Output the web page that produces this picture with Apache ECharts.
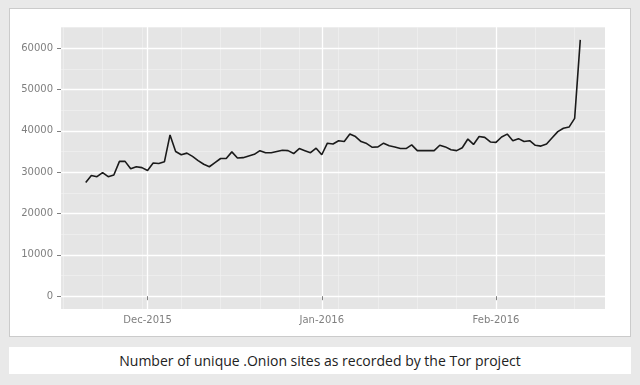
<!DOCTYPE html>
<html>
<head>
<meta charset="utf-8">
<script src="https://cdn.jsdelivr.net/npm/echarts@6/dist/echarts.min.js"></script>
<style>
  html, body { margin: 0; padding: 0; width: 640px; height: 385px; background: #e9e9e9; overflow: hidden; }
  #box { position: absolute; left: 9px; top: 8px; width: 620px; height: 327px; background: #ffffff; border: 1px solid #cbcbcb; }
  #caption { position: absolute; left: 9px; top: 347px; width: 622px; height: 27px; background: #ffffff;
    font-family: "Open Sans", "Noto Sans", sans-serif; font-size: 14px; color: #222; text-align: center; line-height: 27px; }
  #chart { position: absolute; left: 0; top: 0; width: 640px; height: 340px; }
</style>
</head>
<body>
<div id="box"></div>
<div id="chart"></div>
<div id="caption">Number of unique .Onion sites as recorded by the Tor project</div>
<script>
// ---- data ----
const dates = [
  '2015-11-20','2015-11-21','2015-11-22','2015-11-23','2015-11-24','2015-11-25','2015-11-26','2015-11-27','2015-11-28','2015-11-29','2015-11-30',
  '2015-12-01','2015-12-02','2015-12-03','2015-12-04','2015-12-05','2015-12-06','2015-12-07','2015-12-08','2015-12-09','2015-12-10',
  '2015-12-11','2015-12-12','2015-12-13','2015-12-14','2015-12-15','2015-12-16','2015-12-17','2015-12-18','2015-12-19','2015-12-20',
  '2015-12-21','2015-12-22','2015-12-23','2015-12-24','2015-12-25','2015-12-26','2015-12-27','2015-12-28','2015-12-29','2015-12-30','2015-12-31',
  '2016-01-01','2016-01-02','2016-01-03','2016-01-04','2016-01-05','2016-01-06','2016-01-07','2016-01-08','2016-01-09','2016-01-10',
  '2016-01-11','2016-01-12','2016-01-13','2016-01-14','2016-01-15','2016-01-16','2016-01-17','2016-01-18','2016-01-19','2016-01-20',
  '2016-01-21','2016-01-22','2016-01-23','2016-01-24','2016-01-25','2016-01-26','2016-01-27','2016-01-28','2016-01-29','2016-01-30','2016-01-31',
  '2016-02-01','2016-02-02','2016-02-03','2016-02-04','2016-02-05','2016-02-06','2016-02-07','2016-02-08','2016-02-09','2016-02-10',
  '2016-02-11','2016-02-12','2016-02-13','2016-02-14','2016-02-15','2016-02-16'
];
const onionSites = [
  27500, 29200, 28900, 29900, 28900, 29300, 32600, 32600, 30800, 31300, 31100,
  30400, 32200, 32100, 32500, 39000, 35000, 34200, 34600, 33800, 32800,
  31900, 31300, 32300, 33300, 33300, 34900, 33400, 33500, 33900, 34300,
  35200, 34700, 34700, 35000, 35300, 35200, 34500, 35700, 35200, 34700, 35800,
  34200, 37000, 36800, 37600, 37400, 39200, 38600, 37400, 36900, 36000,
  36100, 37000, 36400, 36100, 35700, 35700, 36600, 35200, 35200, 35200,
  35200, 36500, 36100, 35400, 35200, 35900, 38000, 36700, 38600, 38400, 37300,
  37200, 38500, 39200, 37600, 38100, 37400, 37600, 36500, 36300, 36800,
  38300, 39800, 40600, 40900, 43000, 62000
];
const xTickDates = ['2015-12-01', '2016-01-01', '2016-02-01'];
const xTickLabels = ['Dec-2015', 'Jan-2016', 'Feb-2016'];
const xMinorDates = ['2015-11-16','2015-11-23','2015-11-30','2015-12-07','2015-12-14','2015-12-21','2015-12-28',
  '2016-01-04','2016-01-11','2016-01-18','2016-01-25','2016-02-08','2016-02-15'];
const yTicks = [0, 10000, 20000, 30000, 40000, 50000, 60000];
const yTickLabels = ['0', '10000', '20000', '30000', '40000', '50000', '60000'];
const yMinorTicks = [5000, 15000, 25000, 35000, 45000, 55000, 65000];
const yMin = -3100, yMax = 65100;

// ---- chart ----
const ts = s => +echarts.time.parse(s);
const xs = dates.map(ts);
const first = xs[0], last = xs[xs.length - 1];
const pad = (last - first) * 0.05;
const xMin = first - pad, xMax = last + pad;
const monthTs = xTickDates.map(ts);
const minorTs = xMinorDates.map(ts);

const txt = { color: '#7f7f7f', fontSize: 10, fontFamily: 'DejaVu Sans' };
const tick = { show: true, length: 4, inside: false, lineStyle: { color: '#7f7f7f', width: 1 } };

const chart = echarts.init(document.getElementById('chart'), null, { renderer: 'canvas' });
chart.setOption({
  animation: false,
  backgroundColor: 'transparent',
  grid: { left: 61, right: 35, top: 27, bottom: 31, show: true, backgroundColor: '#e5e5e5', borderWidth: 0 },
  xAxis: [
    {
      type: 'value', min: xMin, max: xMax, z: 2,
      axisLine: { show: false },
      axisTick: Object.assign({ customValues: monthTs }, tick),
      axisLabel: Object.assign({
        customValues: monthTs, margin: 6, hideOverlap: false,
        formatter: v => { const i = monthTs.findIndex(m => Math.abs(m - v) < 1000); return i >= 0 ? xTickLabels[i] : ''; }
      }, txt),
      splitLine: { show: true, lineStyle: { color: '#ffffff', width: 1.3 } }
    },
    {
      type: 'value', min: xMin, max: xMax, z: 1, position: 'bottom',
      axisLine: { show: false },
      axisTick: { show: false, customValues: minorTs },
      axisLabel: { show: false, customValues: minorTs },
      splitLine: { show: true, lineStyle: { color: '#f0f0f0', width: 0.7 } }
    }
  ],
  yAxis: [
    {
      type: 'value', min: yMin, max: yMax, z: 2,
      axisLine: { show: false },
      axisTick: Object.assign({ customValues: yTicks }, tick),
      axisLabel: Object.assign({
        customValues: yTicks, margin: 8,
        formatter: v => { const i = yTicks.indexOf(v); return i >= 0 ? yTickLabels[i] : String(v); }
      }, txt),
      splitLine: { show: true, lineStyle: { color: '#ffffff', width: 1.3 } }
    },
    {
      type: 'value', min: yMin, max: yMax, z: 1, position: 'left',
      axisLine: { show: false },
      axisTick: { show: false, customValues: yMinorTicks },
      axisLabel: { show: false, customValues: yMinorTicks },
      splitLine: { show: true, lineStyle: { color: '#f0f0f0', width: 0.7 } }
    }
  ],
  series: [{
    type: 'line', xAxisIndex: 0, yAxisIndex: 0, z: 5,
    data: xs.map((x, i) => [x, onionSites[i]]),
    showSymbol: false, symbol: 'none',
    lineStyle: { color: '#1a1a1a', width: 1.6 }
  }]
});
</script>
</body>
</html>
